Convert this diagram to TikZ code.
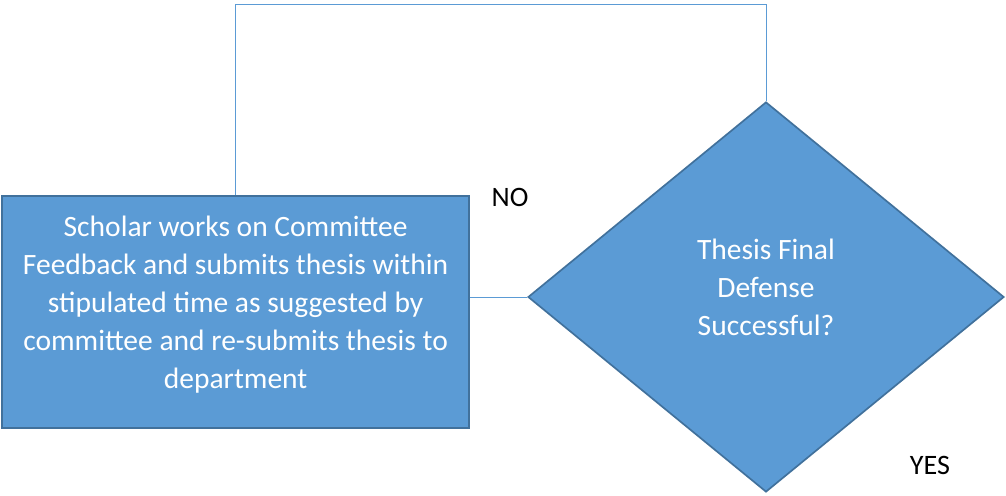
\documentclass[tikz,border=0pt]{standalone}
\usepackage{fontspec}
\setmainfont{Carlito}
\usetikzlibrary{shapes.geometric,positioning,calc}
\definecolor{boxfill}{HTML}{5B9BD5}
\definecolor{boxline}{HTML}{41719C}
\tikzset{
  boxtext/.style={text=white,align=center,font=\fontsize{21}{27}\selectfont},
  stepbox/.style={rectangle,fill=boxfill,draw=boxline,line width=1.2pt},
  decision/.style={diamond,fill=boxfill,draw=boxline,line width=1.2pt,inner sep=0pt},
  link/.style={draw=boxfill,line width=0.7pt}
}
\begin{document}
\begin{tikzpicture}
\useasboundingbox (0,0) rectangle (25.15,12.375);
% the two shapes
\node[stepbox,minimum width=11.675cm,minimum height=5.8cm,
  label={[boxtext,yshift=0.18cm]center:{Scholar works on Committee\\Feedback and submits thesis within\\stipulated time as suggested by\\committee and re-submits thesis to\\department}}]
  (feedback) at (5.89,4.575) {};
\node[decision,minimum width=11.9cm,minimum height=9.75cm,
  label={[boxtext,yshift=0.25cm]center:{Thesis Final\\Defense\\Successful?}}]
  (defense) at (19.15,4.95) {};
% the connectors
\draw[link] (defense.west) -- (defense.west -| feedback.east);
\draw[link] (defense.north) -- ++(0,2.425) coordinate (loop) -| (feedback.north);
% the labels
\node[font=\fontsize{20}{24}\selectfont] (no) at (12.75,7.43) {NO};
\node[font=\fontsize{20}{24}\selectfont] (yes) at (23.25,0.73) {YES};
\end{tikzpicture}
\end{document}
